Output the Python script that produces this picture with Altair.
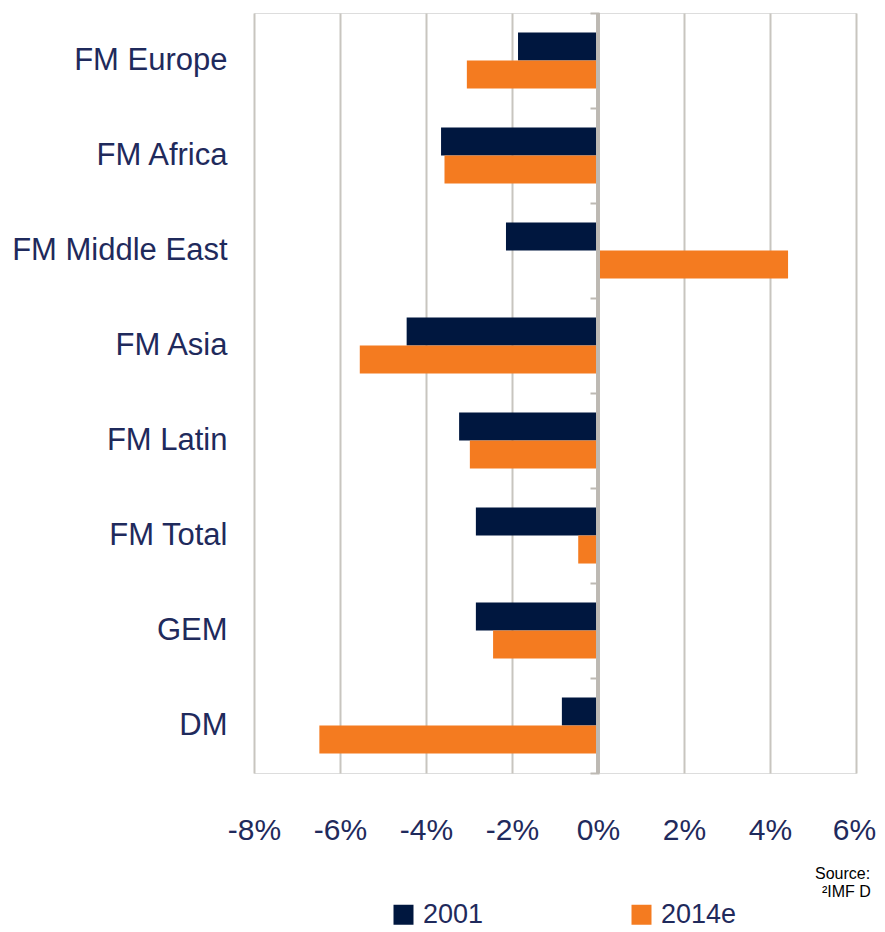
import altair as alt
import pandas as pd

categories = ["FM Europe", "FM Africa", "FM Middle East", "FM Asia", "FM Latin", "FM Total", "GEM", "DM"]
series = ["2001", "2014e"]
values_2001 = [-1.86, -3.65, -2.14, -4.45, -3.23, -2.84, -2.84, -0.84]
values_2014e = [-3.05, -3.57, 4.42, -5.54, -2.98, -0.46, -2.44, -6.48]
x_ticks = [-8, -6, -4, -2, 0, 2, 4, 6]
colors = ["#00173f", "#f47b20"]
source_lines = ["Source:", "\u00b2IMF D"]

rows = []
for c, a, b in zip(categories, values_2001, values_2014e):
    rows.append({"cat": c, "series": series[0], "value": a})
    rows.append({"cat": c, "series": series[1], "value": b})
df = pd.DataFrame(rows)

W, H = 602, 760
FONT = "Liberation Sans, Arial, sans-serif"
TXT = "#1f2a5c"
GRID = "#c8c5bf"
AXIS = "#bdb9b3"

yscale = alt.Scale(domain=categories, paddingInner=0.41, paddingOuter=0.205)
xscale = alt.Scale(domain=[-8, 6], nice=False, zero=False)

bars = alt.Chart(df).mark_bar().encode(
    x=alt.X("value:Q", scale=xscale,
            axis=alt.Axis(values=x_ticks, format="d", labelExpr="datum.value + '%'",
                          title=None, domain=False, ticks=False, grid=True,
                          gridColor=GRID, gridWidth=2, labelFont=FONT, labelFontSize=30,
                          labelColor=TXT, labelPadding=42, labelOverlap=False,
                          labelFlush=False,
                          labelOffset={"condition": {"test": "datum.value == 6", "value": -2},
                                       "value": 0})),
    y=alt.Y("cat:N", scale=yscale, sort=categories,
            axis=alt.Axis(title=None, domain=False, ticks=False, labelFont=FONT,
                          labelFontSize=31, labelColor=TXT, labelPadding=27, labelLimit=400)),
    yOffset=alt.YOffset("series:N", sort=series, scale=alt.Scale(paddingInner=0, paddingOuter=0)),
    color=alt.Color("series:N", sort=series, scale=alt.Scale(domain=series, range=colors),
                    legend=alt.Legend(title=None, orient="none", legendX=136, legendY=888,
                                      direction="horizontal", symbolType="square",
                                      symbolSize=400, symbolStrokeWidth=0, labelFont=FONT,
                                      labelFontSize=27, labelColor=TXT, labelOffset=6,
                                      columnPadding=144, padding=0)),
)

zero_line = alt.Chart(df).mark_rule(color=AXIS, strokeWidth=3).encode(
    x=alt.datum(0, scale=xscale)
)

zero_ticks = alt.Chart(df).transform_calculate(cat_tick="datum.cat").mark_point(opacity=0).encode(
    x=alt.datum(0, scale=xscale),
    y=alt.Y("cat_tick:N", sort=categories,
            scale=alt.Scale(domain=categories, paddingInner=0, paddingOuter=0),
            axis=alt.Axis(title=None, labels=False, domain=False, ticks=True,
                          tickBand="extent", tickSize=9, tickWidth=2, tickColor=AXIS,
                          offset=-(W * 8 / 14) - 1, orient="left")),
)

src = pd.DataFrame({"t": source_lines, "xo": [561, 568], "yo": [866, 884]})
source = alt.Chart(src).mark_text(align="left", baseline="alphabetic", font=FONT,
                                  fontSize=16, color="#000000").encode(
    text="t:N", x=alt.X("xo:Q", scale=None), y=alt.Y("yo:Q", scale=None)
)

chart = alt.layer(bars, zero_line, zero_ticks, source).resolve_scale(
    y="independent"
).resolve_axis(y="independent").properties(
    width=W, height=H,
    autosize=alt.AutoSizeParams(type="none"),
    padding={"left": 246, "top": 5, "right": 21, "bottom": 159},
).configure_view(stroke=None).configure(background="white")

chart.save("out.html", embed_options={"renderer": "svg", "actions": False})
